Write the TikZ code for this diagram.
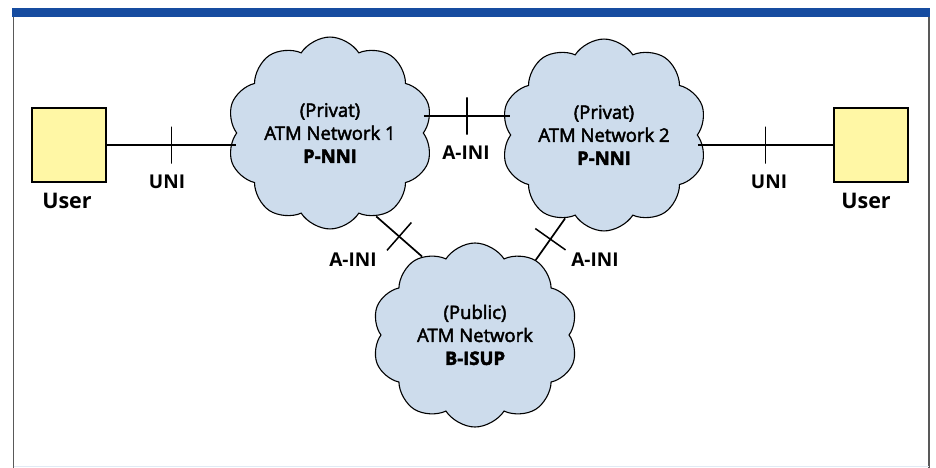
\documentclass[tikz,border=0pt]{standalone}
\usepackage{fontspec}
\setmainfont{Open Sans}
\newfontfamily\netfont{Open Sans}[FakeBold=2.5]
\usetikzlibrary{shapes.symbols}
\definecolor{barblue}{RGB}{22,76,160}
\definecolor{cloudblue}{RGB}{205,220,236}
\definecolor{useryellow}{RGB}{255,247,165}

\begin{document}
\begin{tikzpicture}[x=1pt, y=-1pt,
    network/.style={cloud, cloud puffs=10, cloud puff arc=115, aspect=1.1, draw, line width=1.1pt, fill=cloudblue, minimum width=206pt, minimum height=184pt, align=center, inner sep=0pt, font=\fontsize{18.5}{23}\netfont},
    userbox/.style={draw, line width=1.8pt, fill=useryellow, minimum size=74pt, inner sep=0pt},
    link/.style={line width=1.7pt},
    tick/.style={draw, line width=1.5pt, sloped, inner sep=0pt, minimum width=0pt, minimum height=37pt},
    lbl/.style={font=\fontsize{19}{21}\selectfont\bfseries},
    ulbl/.style={font=\fontsize{21.5}{24}\selectfont\bfseries}]
    \useasboundingbox (0,0) rectangle (936,468);

    % Frame with blue top bar
    \fill[barblue] (12,8) rectangle (930,17);
    \draw[gray!70!black, line width=1.2pt] (13.5,17) -- (13.5,468);
    \draw[gray!70!black, line width=1.2pt] (929,17) -- (929,468);
    \draw[cloudblue!60, line width=1pt] (13.5,466) -- (929,466);

    % Users
    \node[userbox] (userL) at (69,145) {};
    \node[ulbl] at (67,201) {User};
    \node[userbox] (userR) at (871,145) {};
    \node[ulbl] at (866,201) {User};

    % Networks
    \node[network] (net1) at (330,133) {(Privat)\\ATM Network 1\\\textbf{P-NNI}};
    \node[network] (net2) at (604,135) {(Privat)\\ATM Network 2\\\textbf{P-NNI}};
    \node[network] (pub) at (475,335) {(Public)\\ATM Network\\\textbf{B-ISUP}};

    % Interfaces
    \draw[link] (userL.east) -- (userL.east -| net1.west) node[tick, midway] {};
    \draw[link] (net2.east |- userR.west) -- (userR.west) node[tick, midway] {};
    \draw[link] (net1.east |- 0,116) -- (net2.west |- 0,116) node[tick, midway] {};
    \draw[link] (net1.-61) -- (pub.124) node[tick, midway] {};
    \draw[link] (net2.-115) -- (pub.51) node[tick, midway] {};

    % Interface labels
    \node[lbl] at (167,182) {UNI};
    \node[lbl] at (769,182) {UNI};
    \node[lbl] at (466,153) {A-INI};
    \node[lbl] at (353,260) {A-INI};
    \node[lbl] at (595,260) {A-INI};
\end{tikzpicture}
\end{document}
